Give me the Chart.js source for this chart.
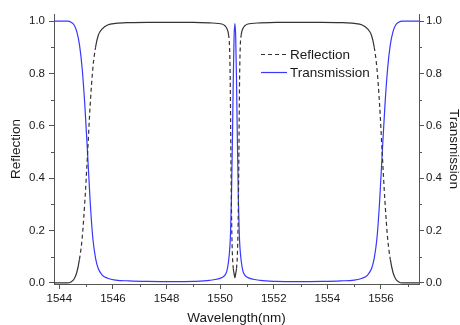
<!DOCTYPE html>
<html>
<head>
<meta charset="utf-8">
<script src="https://cdn.jsdelivr.net/npm/chart.js@4.4.1/dist/chart.umd.min.js"></script>
<style>
  html, body { margin: 0; padding: 0; background: #ffffff; }
  canvas { display: block; }
</style>
</head>
<body>
<canvas id="c" width="460" height="325"></canvas>
<script>
// ---- data ----
const wavelength = [
  1543.8, 1544.3, 1544.45, 1544.55, 1544.65, 1544.75, 1544.85, 1544.95, 1545.05, 1545.15,
  1545.25, 1545.35, 1545.45, 1545.6, 1545.8, 1546.1, 1546.6, 1547.3, 1548.2, 1549.0,
  1549.6, 1550.09, 1550.18, 1550.25, 1550.31, 1550.35, 1550.375, 1550.39, 1550.4, 1550.42,
  1550.44, 1550.46, 1550.49, 1550.52, 1550.55, 1550.58, 1550.61, 1550.64, 1550.66, 1550.68,
  1550.7, 1550.71, 1550.725, 1550.75, 1550.79, 1550.85, 1550.92, 1551.01, 1551.5, 1552.1,
  1552.9, 1553.8, 1554.5, 1555.0, 1555.3, 1555.5, 1555.65, 1555.75, 1555.85, 1555.95,
  1556.05, 1556.15, 1556.25, 1556.35, 1556.45, 1556.55, 1556.65, 1556.8, 1557.42
];
const reflection = [
  0.0, 0.0, 0.005, 0.015, 0.04, 0.09, 0.17, 0.31, 0.49, 0.68,
  0.82, 0.9, 0.945, 0.97, 0.985, 0.991, 0.994, 0.995, 0.995, 0.995,
  0.993, 0.988, 0.982, 0.972, 0.95, 0.9, 0.78, 0.62, 0.5, 0.3,
  0.17, 0.1, 0.055, 0.035, 0.02, 0.035, 0.055, 0.1, 0.17, 0.3,
  0.5, 0.62, 0.78, 0.9, 0.95, 0.972, 0.982, 0.988, 0.993, 0.995,
  0.995, 0.995, 0.994, 0.991, 0.985, 0.97, 0.945, 0.9, 0.82, 0.68,
  0.49, 0.31, 0.17, 0.09, 0.04, 0.015, 0.005, 0.0, 0.0
];
const transmission = [
  1.0, 1.0, 0.995, 0.985, 0.96, 0.91, 0.82, 0.68, 0.5, 0.31,
  0.17, 0.095, 0.055, 0.03, 0.018, 0.011, 0.008, 0.006, 0.005, 0.006,
  0.01, 0.022, 0.03, 0.045, 0.08, 0.12, 0.16, 0.2, 0.24, 0.32,
  0.44, 0.56, 0.78, 0.94, 0.99, 0.94, 0.78, 0.56, 0.44, 0.32,
  0.24, 0.2, 0.16, 0.12, 0.08, 0.045, 0.03, 0.022, 0.01, 0.006,
  0.005, 0.006, 0.008, 0.011, 0.018, 0.03, 0.055, 0.095, 0.17, 0.31,
  0.5, 0.68, 0.82, 0.91, 0.96, 0.985, 0.995, 1.0, 1.0
];
const xTicks = [1544, 1546, 1548, 1550, 1552, 1554, 1556];
const xMinorTicks = [1545, 1547, 1549, 1551, 1553, 1555, 1557];
const yTicks = [0.0, 0.2, 0.4, 0.6, 0.8, 1.0];
const yMinorTicks = [0.1, 0.3, 0.5, 0.7, 0.9];
const seriesNames = ['Reflection', 'Transmission'];

// ---- styling ----
const FONT = '"Liberation Sans", Arial, sans-serif';
const AXIS_COLOR = '#555555';
const TEXT_COLOR = '#1a1a1a';
const R_COLOR = '#333333';
const T_COLOR = '#3737ff';
const DASH = [4, 3];

const pts = (ys) => wavelength.map((x, i) => ({ x: x, y: ys[i] }));

const minorTickPlugin = {
  id: 'minorTicks',
  afterDraw(chart) {
    const ctx = chart.ctx;
    const xs = chart.scales.x, yl = chart.scales.y, yr = chart.scales.y2;
    ctx.save();
    ctx.strokeStyle = AXIS_COLOR;
    ctx.lineWidth = 1;
    ctx.beginPath();
    xMinorTicks.forEach(v => {
      if (v < xs.min || v > xs.max) return;
      const px = Math.round(xs.getPixelForValue(v)) + 0.5;
      ctx.moveTo(px, xs.top); ctx.lineTo(px, xs.top + 3);
    });
    yMinorTicks.forEach(v => {
      const py = Math.round(yl.getPixelForValue(v)) + 0.5;
      ctx.moveTo(yl.right, py); ctx.lineTo(yl.right - 3, py);
      ctx.moveTo(yr.left, py); ctx.lineTo(yr.left + 3, py);
    });
    ctx.stroke();
    ctx.restore();
  }
};

const legendPlugin = {
  id: 'innerLegend',
  afterDatasetsDraw(chart) {
    const ctx = chart.ctx;
    const x0 = 261, x1 = 287, tx = 290;
    const rows = [
      { y: 54, color: R_COLOR, dash: DASH, name: seriesNames[0] },
      { y: 72, color: T_COLOR, dash: [], name: seriesNames[1] }
    ];
    ctx.save();
    rows.forEach(r => {
      ctx.beginPath();
      ctx.setLineDash(r.dash);
      ctx.strokeStyle = r.color;
      ctx.lineWidth = 1.2;
      ctx.moveTo(x0, r.y + 0.5); ctx.lineTo(x1, r.y + 0.5);
      ctx.stroke();
      ctx.setLineDash([]);
      ctx.fillStyle = TEXT_COLOR;
      ctx.font = '13.5px ' + FONT;
      ctx.textAlign = 'left';
      ctx.textBaseline = 'middle';
      ctx.fillText(r.name, tx, r.y + 1);
    });
    ctx.restore();
  }
};

const yScaleCommon = (pos, width, title, titlePad, labelPad) => ({
  type: 'linear',
  position: pos,
  min: -0.004,
  max: 1.027,
  afterBuildTicks: (axis) => { axis.ticks = yTicks.map(v => ({ value: v })); },
  afterFit: (scale) => { scale.width = width; },
  border: { display: true, color: AXIS_COLOR, width: 1 },
  grid: { drawOnChartArea: false, drawTicks: true, tickLength: 5, tickColor: AXIS_COLOR, tickWidth: 1 },
  ticks: {
    color: TEXT_COLOR,
    font: { family: FONT, size: 11.5 },
    padding: labelPad,
    callback: (v) => Number(v).toFixed(1)
  },
  title: {
    display: true,
    text: title,
    color: TEXT_COLOR,
    font: { family: FONT, size: 13.5, lineHeight: 1.0 },
    padding: { top: titlePad, bottom: 0 }
  }
});

new Chart(document.getElementById('c'), {
  type: 'line',
  data: {
    datasets: [
      {
        label: seriesNames[0],
        data: pts(reflection),
        yAxisID: 'y',
        borderColor: R_COLOR,
        borderWidth: 1.2,
        pointRadius: 0,
        cubicInterpolationMode: 'monotone',
        fill: false,
        segment: {
          borderDash: (ctx) => {
            const dx = Math.abs(ctx.p1.parsed.x - ctx.p0.parsed.x);
            const dy = Math.abs(ctx.p1.parsed.y - ctx.p0.parsed.y);
            return (dy / dx > 0.7) ? DASH : [];
          }
        }
      },
      {
        label: seriesNames[1],
        data: pts(transmission),
        yAxisID: 'y2',
        borderColor: T_COLOR,
        borderWidth: 1.2,
        pointRadius: 0,
        cubicInterpolationMode: 'monotone',
        fill: false
      }
    ]
  },
  options: {
    responsive: false,
    animation: false,
    events: [],
    layout: { padding: { top: 14, left: 0, right: 0, bottom: 0 } },
    plugins: { legend: { display: false }, tooltip: { enabled: false } },
    scales: {
      x: {
        type: 'linear',
        position: 'bottom',
        min: 1543.8,
        max: 1557.42,
        afterBuildTicks: (axis) => { axis.ticks = xTicks.map(v => ({ value: v })); },
        afterFit: (scale) => { scale.height = 41; },
        border: { display: true, color: AXIS_COLOR, width: 1 },
        grid: { drawOnChartArea: false, drawTicks: true, tickLength: 5, tickColor: AXIS_COLOR, tickWidth: 1 },
        ticks: {
          color: TEXT_COLOR,
          font: { family: FONT, size: 11.5 },
          padding: 3,
          maxRotation: 0,
          callback: (v) => String(v)
        },
        title: {
          display: true,
          text: 'Wavelength(nm)',
          color: TEXT_COLOR,
          font: { family: FONT, size: 13.5, lineHeight: 1.0 },
          padding: { top: 0, bottom: 0 }
        }
      },
      y: yScaleCommon('left', 54, 'Reflection', 10, 4),
      y2: yScaleCommon('right', 41, 'Transmission', 0, 2)
    }
  },
  plugins: [minorTickPlugin, legendPlugin]
});
</script>
</body>
</html>
